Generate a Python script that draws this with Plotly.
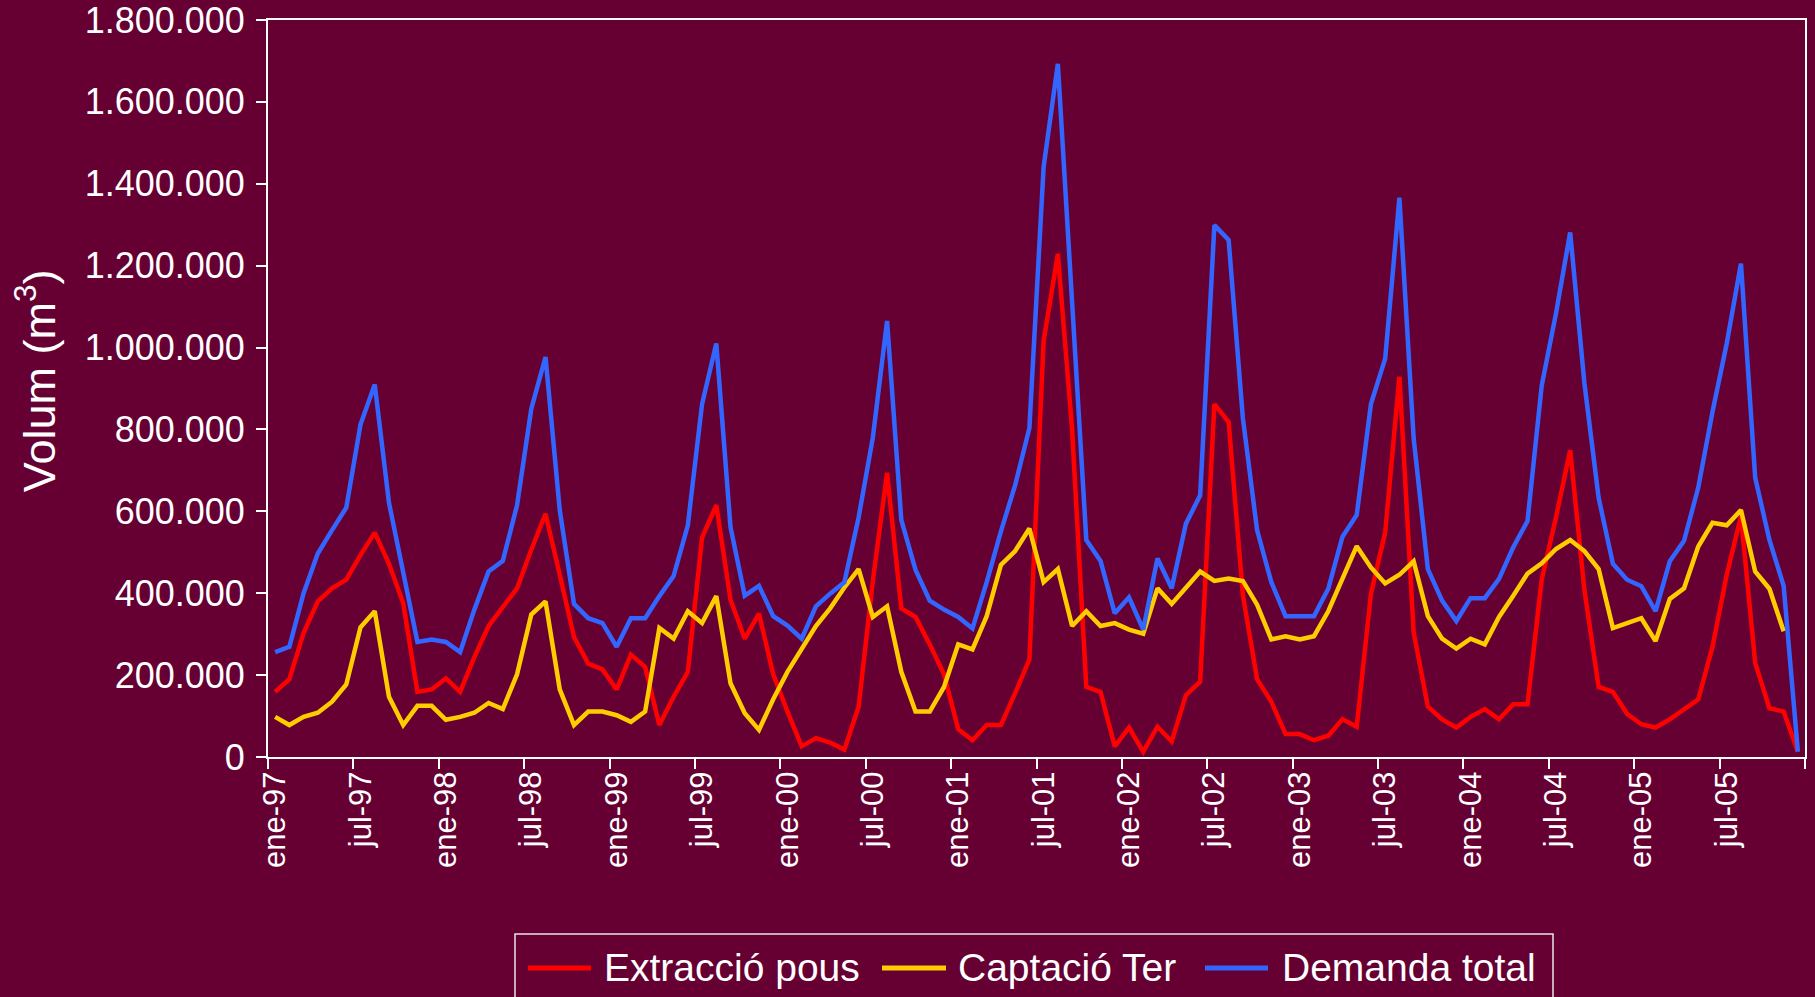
import plotly.graph_objects as go

months = ["ene", "feb", "mar", "abr", "may", "jun", "jul", "ago", "sep", "oct", "nov", "dic"]
years = ["97", "98", "99", "00", "01", "02", "03", "04", "05"]
categories = [f"{m}-{y}" for y in years for m in months]

# Extracció pous (thousand m3)
extraccio = [159, 190, 303, 380, 412, 433, 493, 548, 472, 376, 159, 165,
             192, 159, 244, 320, 366, 412, 506, 594, 445, 293, 228, 214,
             165, 250, 220, 78, 147, 208, 536, 615, 384, 289, 350, 202,
             111, 26, 46, 35, 18, 123, 430, 694, 363, 342, 275, 202,
             68, 41, 78, 78, 156, 238, 1016, 1229, 800, 171, 159, 26,
             72, 13, 74, 38, 151, 184, 862, 818, 396, 190, 135, 56,
             56, 41, 52, 92, 74, 399, 548, 929, 305, 123, 92, 72,
             98, 117, 92, 129, 129, 433, 585, 749, 408, 171, 159, 105,
             80, 72, 92, 117, 141, 269, 445, 588, 230, 119, 111, 13]

# Captació Ter (thousand m3)
captacio = [98, 78, 98, 108, 135, 177, 317, 356, 147, 78, 125, 125,
            91, 98, 108, 132, 117, 202, 348, 380, 165, 78, 111, 111,
            102, 86, 111, 315, 289, 356, 327, 393, 180, 107, 66, 141,
            208, 265, 320, 363, 414, 459, 342, 368, 208, 111, 111, 171,
            275, 263, 344, 469, 503, 558, 427, 459, 320, 356, 320, 327,
            311, 301, 412, 374, 414, 453, 430, 436, 430, 372, 287, 295,
            287, 295, 356, 433, 515, 463, 424, 445, 478, 344, 289, 265,
            289, 275, 342, 394, 448, 473, 508, 530, 503, 459, 315, 327,
            339, 283, 386, 412, 514, 572, 566, 603, 453, 411, 307, None]

# Demanda total (thousand m3)
demanda = [256, 269, 400, 497, 554, 609, 812, 910, 621, 453, 281, 287,
           281, 256, 360, 453, 479, 615, 850, 977, 603, 374, 339, 327,
           269, 339, 339, 393, 442, 566, 862, 1010, 561, 394, 418, 344,
           321, 289, 368, 399, 427, 585, 780, 1065, 579, 457, 382, 360,
           342, 314, 427, 551, 664, 803, 1441, 1693, 1125, 530, 479, 351,
           390, 311, 485, 412, 570, 639, 1299, 1263, 828, 554, 427, 344,
           344, 344, 411, 538, 591, 862, 973, 1366, 779, 459, 382, 332,
           388, 388, 435, 512, 576, 907, 1083, 1281, 913, 633, 472, 433,
           417, 356, 478, 528, 658, 843, 1010, 1205, 682, 530, 418, 13]

y_tickvals = [0, 200000, 400000, 600000, 800000, 1000000, 1200000, 1400000, 1600000, 1800000]
y_ticktext = ["0", "200.000", "400.000", "600.000", "800.000", "1.000.000",
              "1.200.000", "1.400.000", "1.600.000", "1.800.000"]

series_names = ["Extracció pous", "Captació Ter", "Demanda total"]
series_values = [extraccio, captacio, demanda]
series_colors = ["#FF0000", "#FFCC00", "#3366FF"]

BG = "#660033"
FONT = "Liberation Sans, Arial, sans-serif"

# figure geometry (px) used only for converting legend layout to paper coords
W, H = 1815, 997
ML, MR, MT, MB = 268, 10, 20, 240
PW, PH = W - ML - MR, H - MT - MB


def px_x(px):
    return (px - ML) / PW


def px_y(py):
    return (H - MB - py) / PH


fig = go.Figure()
for name, vals, color in zip(series_names, series_values, series_colors):
    fig.add_trace(go.Scatter(
        x=categories,
        y=[v * 1000 if v is not None else None for v in vals],
        mode="lines",
        name=name,
        line=dict(color=color, width=4.5),
        connectgaps=False,
        showlegend=False,
    ))

# custom legend box (long line symbols like the original)
legend_box = dict(x0=515, x1=1553, y0=934, y1=1012)
legend_items_px = [(528, 591, 602), (882, 946, 956), (1205, 1268, 1280)]
legend_line_y = 968
shapes = [dict(
    type="rect", xref="paper", yref="paper",
    x0=px_x(legend_box["x0"]), x1=px_x(legend_box["x1"]),
    y0=px_y(legend_box["y0"]), y1=px_y(legend_box["y1"]),
    line=dict(color="#E6E6E6", width=1.5), fillcolor="rgba(0,0,0,0)",
)]
annotations = [dict(
    text="Volum (m<sup>3</sup>)",
    xref="paper", yref="paper",
    x=px_x(36), y=0.51, xanchor="center", yanchor="middle",
    textangle=-90, showarrow=False,
    font=dict(size=45, color="white", family=FONT),
)]
for (lx0, lx1, tx), name, color in zip(legend_items_px, series_names, series_colors):
    shapes.append(dict(
        type="line", xref="paper", yref="paper",
        x0=px_x(lx0), x1=px_x(lx1), y0=px_y(legend_line_y), y1=px_y(legend_line_y),
        line=dict(color=color, width=5),
    ))
    annotations.append(dict(
        text=name, xref="paper", yref="paper",
        x=px_x(tx), y=px_y(legend_line_y), xanchor="left", yanchor="middle",
        showarrow=False, font=dict(size=39, color="white", family=FONT),
    ))

fig.update_layout(
    width=W, height=H,
    paper_bgcolor=BG, plot_bgcolor=BG,
    font=dict(family=FONT, color="white"),
    margin=dict(l=ML, r=MR, t=MT, b=MB, autoexpand=False),
    showlegend=False,
    xaxis=dict(
        type="category",
        categoryorder="array", categoryarray=categories,
        range=[-0.5, len(categories) - 0.5],
        tickmode="linear", tick0=0, dtick=6,
        tickson="boundaries",
        ticks="outside", ticklen=10, tickwidth=1.5, tickcolor="white",
        tickangle=-90,
        tickfont=dict(size=31, color="white", family=FONT),
        ticklabeloverflow="allow",
        showline=True, linecolor="white", linewidth=2, mirror=True,
        showgrid=False, zeroline=False,
    ),
    yaxis=dict(
        range=[0, 1800000],
        tickmode="array", tickvals=y_tickvals, ticktext=y_ticktext,
        ticks="outside", ticklen=10, tickwidth=1.5, tickcolor="white",
        tickfont=dict(size=36, color="white", family=FONT),
        ticklabelstandoff=4,
        ticklabeloverflow="allow",
        showline=True, linecolor="white", linewidth=2, mirror=True,
        showgrid=False, zeroline=False,
    ),
    shapes=shapes,
    annotations=annotations,
)

fig.write_html(
    "out.html",
    config={"displayModeBar": False},
    post_script="document.body.style.margin='0';document.body.style.overflow='hidden';",
)
